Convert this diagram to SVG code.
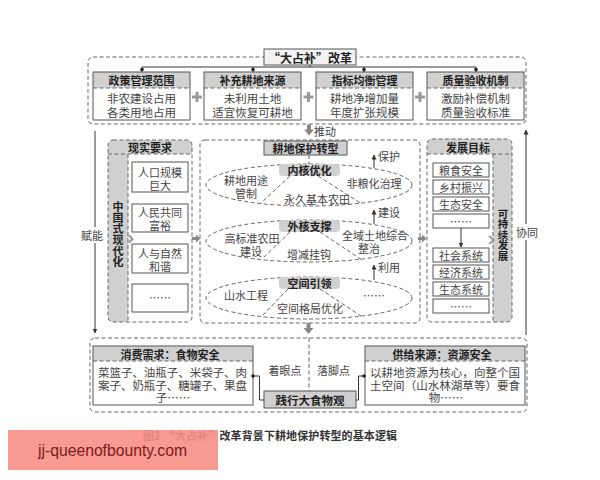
<svg xmlns="http://www.w3.org/2000/svg" width="600" height="480" viewBox="0 0 600 480">
<defs>
<style>
.s{fill:none;stroke:#555;stroke-width:1}
.d{fill:none;stroke:#666;stroke-width:1;stroke-dasharray:4 2.5}
.g{fill:#d0d0d0}
.ga{fill:#999}
.h{font-family:"Noto Sans CJK SC",sans-serif;font-weight:700;font-size:11px;fill:#222;text-anchor:middle;dominant-baseline:central}
.v{font-family:"Noto Sans CJK SC",sans-serif;font-weight:700;font-size:11px;fill:#222;text-anchor:middle;writing-mode:vertical-rl;text-orientation:upright}
.t{font-family:"Noto Sans CJK SC",sans-serif;font-size:11.5px;fill:#444;text-anchor:middle;dominant-baseline:central}
.ts{font-family:"Noto Sans CJK SC",sans-serif;font-size:11px;fill:#444;text-anchor:middle;dominant-baseline:central}
.ln{fill:none;stroke:#333;stroke-width:1}
</style>
<marker id="ah" viewBox="0 0 10 10" refX="9" refY="5" markerWidth="5" markerHeight="5" orient="auto"><path d="M0,0 L10,5 L0,10 z" fill="#333"/></marker>
</defs>
<rect width="600" height="480" fill="#fff"/>

<!-- Top section -->
<g id="top-frame">
<rect class="d" x="88" y="57" width="438" height="67" rx="5"/>
</g>
<g id="n-title">
<rect x="264" y="49" width="92" height="16" fill="#f2f2f2" stroke="#555"/>
<text class="h" x="310" y="57" style="font-size:12px">“大占补”改革</text>
</g>
<g id="n-policy">
<rect class="g" x="93" y="72" width="97" height="16"/>
<line class="d" x1="93" y1="88" x2="190" y2="88"/>
<rect class="s" x="93" y="72" width="97" height="48"/>
<text class="h" x="141.5" y="80">政策管理范围</text>
<text class="t" x="141.5" y="98">非农建设占用</text>
<text class="t" x="141.5" y="112">各类用地占用</text>
</g>
<g id="n-source">
<rect class="g" x="204" y="72" width="97" height="16"/>
<line class="d" x1="204" y1="88" x2="301" y2="88"/>
<rect class="s" x="204" y="72" width="97" height="48"/>
<text class="h" x="252.5" y="80">补充耕地来源</text>
<text class="t" x="252.5" y="98">未利用土地</text>
<text class="t" x="252.5" y="112">适宜恢复可耕地</text>
</g>
<g id="n-index">
<rect class="g" x="316" y="72" width="97" height="16"/>
<line class="d" x1="316" y1="88" x2="413" y2="88"/>
<rect class="s" x="316" y="72" width="97" height="48"/>
<text class="h" x="364.5" y="80">指标均衡管理</text>
<text class="t" x="364.5" y="98">耕地净增加量</text>
<text class="t" x="364.5" y="112">年度扩张规模</text>
</g>
<g id="n-quality">
<rect class="g" x="427" y="72" width="97" height="16"/>
<line class="d" x1="427" y1="88" x2="524" y2="88"/>
<rect class="s" x="427" y="72" width="97" height="48"/>
<text class="h" x="475.5" y="80">质量验收机制</text>
<text class="t" x="475.5" y="98">激励补偿机制</text>
<text class="t" x="475.5" y="112">质量验收标准</text>
</g>
<g id="plus" stroke="#999" stroke-width="3">
<path d="M192,97h10M197,92v10"/>
<path d="M303.5,97h10M308.5,92v10"/>
<path d="M415,97h10M420,92v10"/>
</g>

<!-- Left section -->
<g id="n-reality">
<path class="g" d="M108,154 V145 a5,5 0 0 1 5,-5 H187 a5,5 0 0 1 5,5 V154 Z"/>
<path class="g" d="M108,154 H128 V322 H113 a5,5 0 0 1 -5,-5 Z"/>
<rect class="d" x="108" y="140" width="84" height="182" rx="5"/>
<line class="d" x1="108" y1="154" x2="192" y2="154"/>
<line class="d" x1="128" y1="154" x2="128" y2="322"/>
<text class="h" x="150" y="147">现实要求</text>
<text class="v" x="118" y="234.5">中国式现代化</text>
<path class="ga" d="M127,235 h3 l4,4 l-4,4 h-3 l4,-4 z"/>
<rect class="s" x="132" y="162" width="56" height="30"/>
<text class="ts" x="160" y="171.5">人口规模</text>
<text class="ts" x="160" y="184.5">巨大</text>
<rect class="s" x="132" y="204" width="56" height="28"/>
<text class="ts" x="160" y="212">人民共同</text>
<text class="ts" x="160" y="225">富裕</text>
<rect class="s" x="132" y="244" width="56" height="29"/>
<text class="ts" x="160" y="253">人与自然</text>
<text class="ts" x="160" y="266">和谐</text>
<rect class="s" x="132" y="284" width="56" height="28"/>
<text class="ts" x="160" y="297">……</text>
</g>

<!-- Center section -->
<g id="n-center">
<rect class="d" x="200" y="140" width="220" height="183" rx="5"/>
<rect x="264" y="141" width="83" height="14" fill="#d0d0d0" stroke="#555"/>
<text class="h" x="305.5" y="148">耕地保护转型</text>
<line class="d" x1="309" y1="155" x2="309" y2="164"/>
</g>
<g id="n-core">
<ellipse class="d" cx="309" cy="185" rx="103" ry="21"/>
<path class="d" d="M290,176 L260,204 M318,176 L362,204"/>
<rect x="279" y="164" width="61" height="12" rx="4" fill="#d0d0d0"/>
<text class="h" x="309.5" y="170">内核优化</text>
<text class="ts" x="246" y="180">耕地用途</text>
<text class="ts" x="246" y="193">管制</text>
<text class="ts" x="374" y="183">非粮化治理</text>
<text class="ts" x="317" y="199">永久基本农田</text>
</g>
<g id="n-outer">
<ellipse class="d" cx="309" cy="241" rx="103" ry="21"/>
<path class="d" d="M290,232 L262,259 M320,232 L362,260"/>
<rect x="279" y="220" width="61" height="12" rx="4" fill="#d0d0d0"/>
<text class="h" x="309.5" y="226">外核支撑</text>
<text class="ts" x="252" y="238">高标准农田</text>
<text class="ts" x="251" y="251">建设</text>
<text class="ts" x="375" y="235">全域土地综合</text>
<text class="ts" x="369" y="248">整治</text>
<text class="ts" x="309" y="254">增减挂钩</text>
</g>
<g id="n-space">
<ellipse class="d" cx="309" cy="298" rx="103" ry="21"/>
<path class="d" d="M288,289 L263,315 M320,289 L361,316"/>
<rect x="279" y="277" width="61" height="12" rx="4" fill="#d0d0d0"/>
<text class="h" x="309.5" y="283">空间引领</text>
<text class="ts" x="246" y="295">山水工程</text>
<text class="ts" x="374" y="295">……</text>
<text class="ts" x="310" y="308">空间格局优化</text>
</g>

<!-- Right section -->
<g id="n-goal">
<path class="g" d="M427,154 V144 a5,5 0 0 1 5,-5 H507 a5,5 0 0 1 5,5 V154 Z"/>
<path class="g" d="M493,154 H512 V317 a5,5 0 0 1 -5,5 H493 Z"/>
<rect class="d" x="427" y="139" width="85" height="183" rx="5"/>
<line class="d" x1="427" y1="154" x2="512" y2="154"/>
<line class="d" x1="493" y1="154" x2="493" y2="322"/>
<text class="h" x="468" y="147">发展目标</text>
<text class="v" x="503" y="235" style="font-size:10.5px">可持续发展</text>
<path class="ga" d="M488,236 h3 l4,4 l-4,4 h-3 l4,-4 z"/>
<rect class="s" x="433" y="163" width="56" height="14"/>
<text class="ts" x="461" y="170">粮食安全</text>
<rect class="s" x="433" y="180" width="56" height="14"/>
<text class="ts" x="461" y="187">乡村振兴</text>
<rect class="s" x="433" y="197" width="56" height="14"/>
<text class="ts" x="461" y="204">生态安全</text>
<rect class="s" x="433" y="214" width="56" height="14"/>
<text class="ts" x="461" y="221">……</text>
<rect class="s" x="433" y="248" width="56" height="14"/>
<text class="ts" x="461" y="255">社会系统</text>
<rect class="s" x="433" y="265" width="56" height="14"/>
<text class="ts" x="461" y="272">经济系统</text>
<rect class="s" x="433" y="282" width="56" height="14"/>
<text class="ts" x="461" y="289">生态系统</text>
<rect class="s" x="433" y="299" width="56" height="14"/>
<text class="ts" x="461" y="306">……</text>
</g>

<!-- Bottom section -->
<g id="bottom-frame">
<rect class="d" x="90" y="338" width="437" height="74" rx="5"/>
<line class="d" x1="309" y1="338" x2="309" y2="391"/>
</g>
<g id="n-demand">
<rect class="g" x="93" y="346" width="160" height="15"/>
<line class="d" x1="93" y1="361" x2="253" y2="361"/>
<rect class="s" x="93" y="346" width="160" height="59"/>
<text class="h" x="170" y="353.5">消费需求：食物安全</text>
<text class="t" x="98" y="371.5" style="text-anchor:start" textLength="149" lengthAdjust="spacing">菜篮子、油瓶子、米袋子、肉</text>
<text class="t" x="98" y="384.5" style="text-anchor:start" textLength="149" lengthAdjust="spacing">案子、奶瓶子、糖罐子、果盘</text>
<text class="t" x="173" y="397">子……</text>
</g>
<g id="n-supply">
<rect class="g" x="365" y="346" width="160" height="15"/>
<line class="d" x1="365" y1="361" x2="525" y2="361"/>
<rect class="s" x="365" y="346" width="160" height="59"/>
<text class="h" x="442" y="353.5">供给来源：资源安全</text>
<text class="t" x="370" y="371.5" style="text-anchor:start" textLength="150" lengthAdjust="spacing">以耕地资源为核心，向整个国</text>
<text class="t" x="370" y="384.5" style="text-anchor:start" textLength="150" lengthAdjust="spacing">土空间（山水林湖草等）要食</text>
<text class="t" x="446" y="397">物……</text>
</g>
<g id="n-food">
<rect x="264" y="391" width="92" height="17" fill="#d0d0d0" stroke="#555"/>
<text class="h" x="310" y="399.5" style="font-size:11.5px">践行大食物观</text>
</g>

<!-- Connectors -->
<g id="connectors">
<path class="ln" d="M310,65 V67 M142,67 H476 M142,67 V72 M253,67 V72 M364,67 V72 M476,67 V72"/>
<g fill="#222"><circle cx="142" cy="69.5" r="1.8"/><circle cx="253" cy="69.5" r="1.8"/><circle cx="364" cy="69.5" r="1.8"/><circle cx="476" cy="69.5" r="1.8"/></g>
<path fill="#888" d="M307,124.5 h4 v5 h3 l-5,6 l-5,-6 h3 z"/>
<text class="ts" x="314" y="131" style="text-anchor:start">推动</text>
<line class="ln" x1="95" y1="131" x2="95" y2="333" marker-end="url(#ah)"/>
<rect x="82" y="227" width="21" height="16" fill="#fff"/>
<text class="ts" x="92" y="235">赋能</text>
<line class="ln" x1="526" y1="335" x2="526" y2="130" marker-end="url(#ah)"/>
<rect x="516" y="224" width="22" height="16" fill="#fff"/>
<text class="ts" x="527" y="232">协同</text>
<path fill="#888" d="M192,237 h4 v-2.5 l4.5,4 l-4.5,4 v-2.5 h-4 z"/>
<path fill="#888" d="M418,237 h4 v-2.5 l4.5,4 l-4.5,4 v-2.5 h-4 z"/>
<path fill="#888" d="M306.5,323 h4 v5 h3 l-5,6 l-5,-6 h3 z"/>
<line class="ln" x1="374" y1="168" x2="374" y2="155" marker-end="url(#ah)"/>
<text class="ts" x="378" y="156" style="text-anchor:start">保护</text>
<line class="ln" x1="374" y1="224" x2="374" y2="210" marker-end="url(#ah)"/>
<text class="ts" x="378" y="212" style="text-anchor:start">建设</text>
<line class="ln" x1="374" y1="280" x2="374" y2="265" marker-end="url(#ah)"/>
<text class="ts" x="378" y="267" style="text-anchor:start">利用</text>
<line class="ln" x1="461" y1="228" x2="461" y2="247" marker-end="url(#ah)"/>
<path class="ln" d="M253,376 H259.5 V400 H264"/>
<path class="ln" d="M365,376 H358.5 V400 H356"/>
<circle cx="253" cy="376" r="1.8" fill="#222"/>
<circle cx="364" cy="376" r="1.8" fill="#222"/>
<text class="ts" x="285" y="370">着眼点</text>
<text class="ts" x="333.5" y="370">落脚点</text>
</g>

<!-- Caption and watermark -->
<g id="caption">
<text x="143" y="435" style="font-family:'Noto Sans CJK SC',sans-serif;font-weight:700;font-size:11px;fill:#333;dominant-baseline:central">图2</text>
<text x="164" y="435" textLength="233" lengthAdjust="spacing" style="font-family:'Noto Sans CJK SC',sans-serif;font-weight:700;font-size:11px;fill:#333;dominant-baseline:central">“大占补”改革背景下耕地保护转型的基本逻辑</text>
</g>
<g id="watermark">
<rect x="8" y="430" width="210" height="40" fill="#f78e86" fill-opacity="0.9"/>
<text x="38" y="456" textLength="149" lengthAdjust="spacingAndGlyphs" style="font-family:'Liberation Sans',sans-serif;font-size:16px;fill:#7a1c1c">jj-queenofbounty.com</text>
</g>
</svg>
